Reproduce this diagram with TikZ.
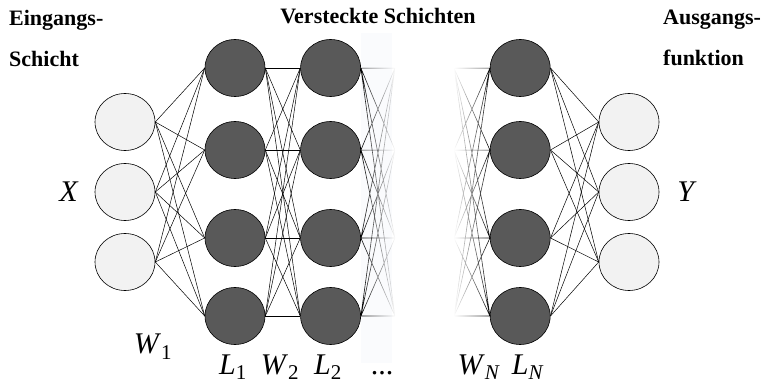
\documentclass[tikz,border=0pt]{standalone}
\usepackage{fontspec}
\setmainfont{Liberation Serif}
\usetikzlibrary{positioning,shapes.geometric,fadings}

\definecolor{lightfill}{HTML}{F2F2F2}
\definecolor{darkfill}{HTML}{595959}
\definecolor{fadebg}{HTML}{FAFBFD}

\newcommand{\sub}[1]{\textsubscript{#1}}

\begin{document}
\begin{tikzpicture}[x=1pt, y=-1pt,
  neuron/.style={draw, ellipse, line width=0.6pt, minimum width=60pt,
                 minimum height=57pt, inner sep=0pt},
  inout/.style={neuron, fill=lightfill},
  hidden/.style={neuron, fill=darkfill},
  conn/.style={line width=0.5pt},
  head/.style={font=\fontsize{22}{41}\selectfont\bfseries, align=left, inner sep=0pt},
  sym/.style={font=\fontsize{30}{30}\selectfont, inner sep=0pt, anchor=base}]
  \useasboundingbox (0,0) rectangle (764,390);
  \fill[fadebg] (361,33) rectangle (392,363);

  % layers
  \foreach \i/\y in {1/122,2/192,3/262} {
    \node[inout] (in-\i) at (125,\y) {};
    \node[inout] (out-\i) at (629,\y) {};
  }
  \foreach \i/\y in {1/68,2/150,3/238,4/316} {
    \node[hidden] (h1-\i) at (235,\y) {};
    \node[hidden, right=35pt of h1-\i] (h2-\i) {};
    \node[hidden, right=129pt of h2-\i] (hn-\i) {};
    \coordinate (va-\i) at (395,\y);
    \coordinate (vb-\i) at (454,\y);
  }

  % weights
  \foreach \i in {1,2,3} \foreach \j in {1,...,4} {
    \draw[conn] (in-\i.east) -- (h1-\j.west);
    \draw[conn] (hn-\j.east) -- (out-\i.west);
  }
  \foreach \i in {1,...,4} \foreach \j in {1,...,4}
    \draw[conn] (h1-\i.east) -- (h2-\j.west);
  \draw[conn, line width=0.6pt, path fading=east]
    \foreach \i in {1,...,4} {\foreach \j in {1,...,4} {(h2-\i.east) -- (va-\j)}};
  \draw[conn, line width=0.6pt, path fading=west]
    \foreach \i in {1,...,4} {\foreach \j in {1,...,4} {(vb-\i) -- (hn-\j.west)}};

  % labels
  \node[head, anchor=north west] (t-in) at (9,10) {Eingangs-\\Schicht};
  \node[head, anchor=base] (t-hid) at (378,24) {Versteckte Schichten};
  \node[head, anchor=north west] (t-out) at (663,10) {Ausgangs-\\funktion};
  \node[sym] (s-x) at (69,202) {\textit{X}};
  \node[sym] (s-y) at (687,202) {\textit{Y}};
  \node[sym] (s-w1) at (153,354) {\textit{W}\sub{1}};
  \node[sym] (s-l1) at (233,374) {\textit{L}\sub{1}};
  \node[sym] (s-w2) at (280,374) {\textit{W}\sub{2}};
  \node[sym] (s-l2) at (328,374) {\textit{L}\sub{2}};
  \node[sym] (s-dots) at (382,374) {...};
  \node[sym] (s-wn) at (479,374) {\textit{W}\sub{\textit{N}}};
  \node[sym] (s-ln) at (528,374) {\textit{L}\sub{\textit{N}}};
\end{tikzpicture}
\end{document}
